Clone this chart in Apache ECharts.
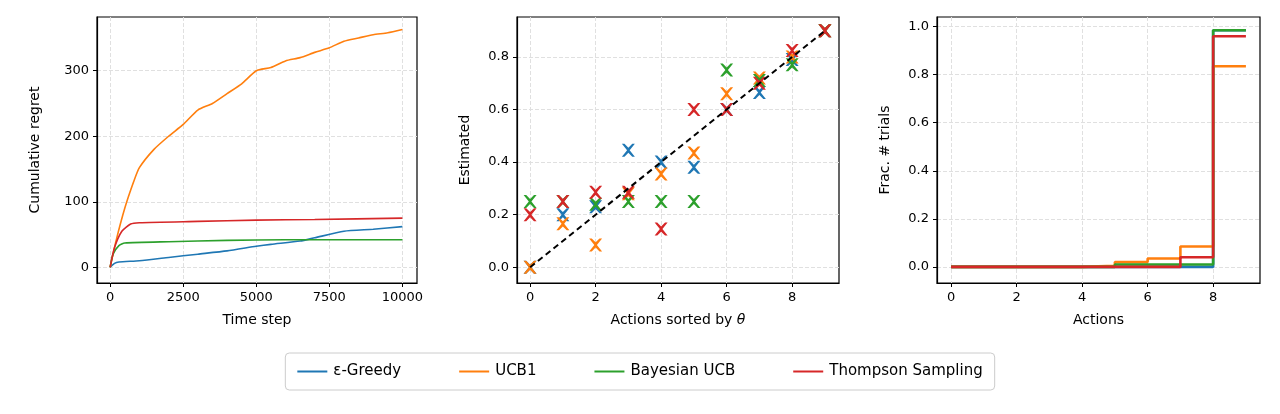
<!DOCTYPE html><html><head><meta charset="utf-8"><script src="https://cdn.jsdelivr.net/npm/echarts@6/dist/echarts.min.js"></script></head><body style="margin:0"><div id="c" style="width:1280px;height:414px"></div><script>
const names=['ε-Greedy','UCB1','Bayesian UCB','Thompson Sampling'];
const colors=['#1f77b4','#ff7f0e','#2ca02c','#d62728'];
// cumulative regret [t, value]
const regretGreedy=[[0,0],[150,6],[300,8],[1000,10],[2000,15],[3000,20],[4000,25],[5000,32],[5500,35],[6500,40],[7000,45],[8000,55],[9000,58],[10000,62]];
const regretUCB1=[[0,0],[200,40],[500,90],[800,130],[1000,152],[1500,180],[2000,200],[2500,218],[3000,240],[3500,250],[4000,265],[4500,280],[5000,300],[5500,305],[6000,315],[6500,320],[7000,328],[7500,335],[8000,345],[8500,350],[9000,355],[9500,358],[10000,363]];
const regretBUCB=[[0,0],[100,20],[300,33],[500,37],[2000,39],[4000,41],[6000,42],[10000,42]];
const regretTS=[[0,0],[150,30],[400,55],[700,66],[1000,68],[3000,70],[5000,72],[7000,73],[10000,75]];
// estimated values per action 0..9
const estGreedy=[0.0,0.2,0.23,0.445,0.4,0.38,0.6,0.665,0.79,0.9];
const estUCB1=[0.0,0.165,0.085,0.28,0.355,0.435,0.66,0.72,0.8,0.9];
const estBUCB=[0.25,0.25,0.24,0.25,0.25,0.25,0.75,0.71,0.77,0.9];
const estTS=[0.2,0.25,0.285,0.285,0.145,0.6,0.6,0.7,0.825,0.9];
// fraction of trials per action 0..9
const fracGreedy=[0,0,0,0,0,0,0,0,0.985,0.985];
const fracUCB1=[0,0,0,0,0.005,0.02,0.035,0.085,0.835,0.835];
const fracBUCB=[0,0,0,0,0,0.01,0.01,0.01,0.985,0.985];
const fracTS=[0,0,0,0,0,0,0,0.04,0.96,0.96];
const actions=[0,1,2,3,4,5,6,7,8,9];
const ticksTime=[0,2500,5000,7500,10000];
const ticksRegret=[0,100,200,300];
const ticksAct=[0,2,4,6,8];
const ticksEst=[0,0.2,0.4,0.6,0.8];
const ticksFrac=[0,0.2,0.4,0.6,0.8,1.0];

const tc='#000',fs=13,ff='DejaVu Sans';
const grids=[{left:97,width:320,top:17,height:266},{left:517,width:322,top:17,height:266},{left:937,width:323,top:17,height:266}].map(g=>Object.assign(g,{show:true,borderColor:'#000',borderWidth:1.2}));
function ax(i,min,max,ticks,name,fmt,isY,nameTextStyle){return {type:'value',gridIndex:i,min,max,name,nameLocation:'middle',nameGap:isY?(i==0?55:45):30,nameTextStyle:nameTextStyle||{fontSize:14,color:tc,fontFamily:ff},
axisLine:{show:true,onZero:false,lineStyle:{color:'#000',width:1.2}},
axisTick:{show:true,length:4,customValues:ticks,lineStyle:{color:'#000'}},
axisLabel:{color:tc,fontSize:fs,fontFamily:ff,customValues:ticks,formatter:fmt},
splitLine:{show:true,customValues:ticks,lineStyle:{type:'dashed',color:'#e0e0e0'}}};}
const series=[];
[regretGreedy,regretUCB1,regretBUCB,regretTS].forEach((d,k)=>series.push({name:names[k],type:'line',xAxisIndex:0,yAxisIndex:0,data:d,showSymbol:false,smooth:0.2,lineStyle:{width:1.6,color:colors[k]},itemStyle:{color:colors[k]},z:k}));
const xMark='path://M0,0L2,0L5,3L8,0L10,0L6,5L10,10L8,10L5,7L2,10L0,10L4,5Z';
[estGreedy,estUCB1,estBUCB,estTS].forEach((d,k)=>series.push({name:names[k],type:'scatter',xAxisIndex:1,yAxisIndex:1,data:d.map((v,i)=>[actions[i],v]),symbol:xMark,symbolSize:13,itemStyle:{color:colors[k],opacity:1},z:3+k}));
series.push({type:'line',xAxisIndex:1,yAxisIndex:1,data:[[0,0],[9,0.9]],showSymbol:false,lineStyle:{type:[6,4],color:'#000',width:2},z:10,silent:true});
[fracGreedy,fracUCB1,fracBUCB,fracTS].forEach((d,k)=>series.push({name:names[k],type:'line',step:'end',xAxisIndex:2,yAxisIndex:2,data:d.map((v,i)=>[actions[i],v]),showSymbol:false,lineStyle:{width:2.6,color:colors[k]},itemStyle:{color:colors[k]},z:k}));
const opt={animation:false,backgroundColor:'#fff',
grid:grids,
xAxis:[ax(0,-450,10500,ticksTime,'Time step',v=>v),
ax(1,-0.4,9.43,ticksAct,'{a|Actions sorted by }{b|θ}',v=>v,false,{rich:{a:{fontSize:14,color:tc,fontFamily:ff},b:{fontSize:14,color:tc,fontFamily:ff,fontStyle:'italic'}}}),
ax(2,-0.43,9.43,ticksAct,'Actions',v=>v)],
yAxis:[ax(0,-24,382,ticksRegret,'Cumulative regret',v=>v,true),ax(1,-0.06,0.952,ticksEst,'Estimated',v=>v.toFixed(1),true),ax(2,-0.067,1.04,ticksFrac,'Frac. # trials',v=>v.toFixed(1),true)],
legend:{data:names.map((n,k)=>({name:n,icon:'path://M0,0L30,0L30,2L0,2Z',itemStyle:{color:colors[k]}})),left:'center',top:353,itemWidth:32,itemHeight:2,itemGap:58,borderColor:'#ccc',borderWidth:1,borderRadius:4,padding:[11,12],textStyle:{fontSize:15,color:tc,fontFamily:ff}},
series};
echarts.init(document.getElementById('c')).setOption(opt);
</script></body></html>
